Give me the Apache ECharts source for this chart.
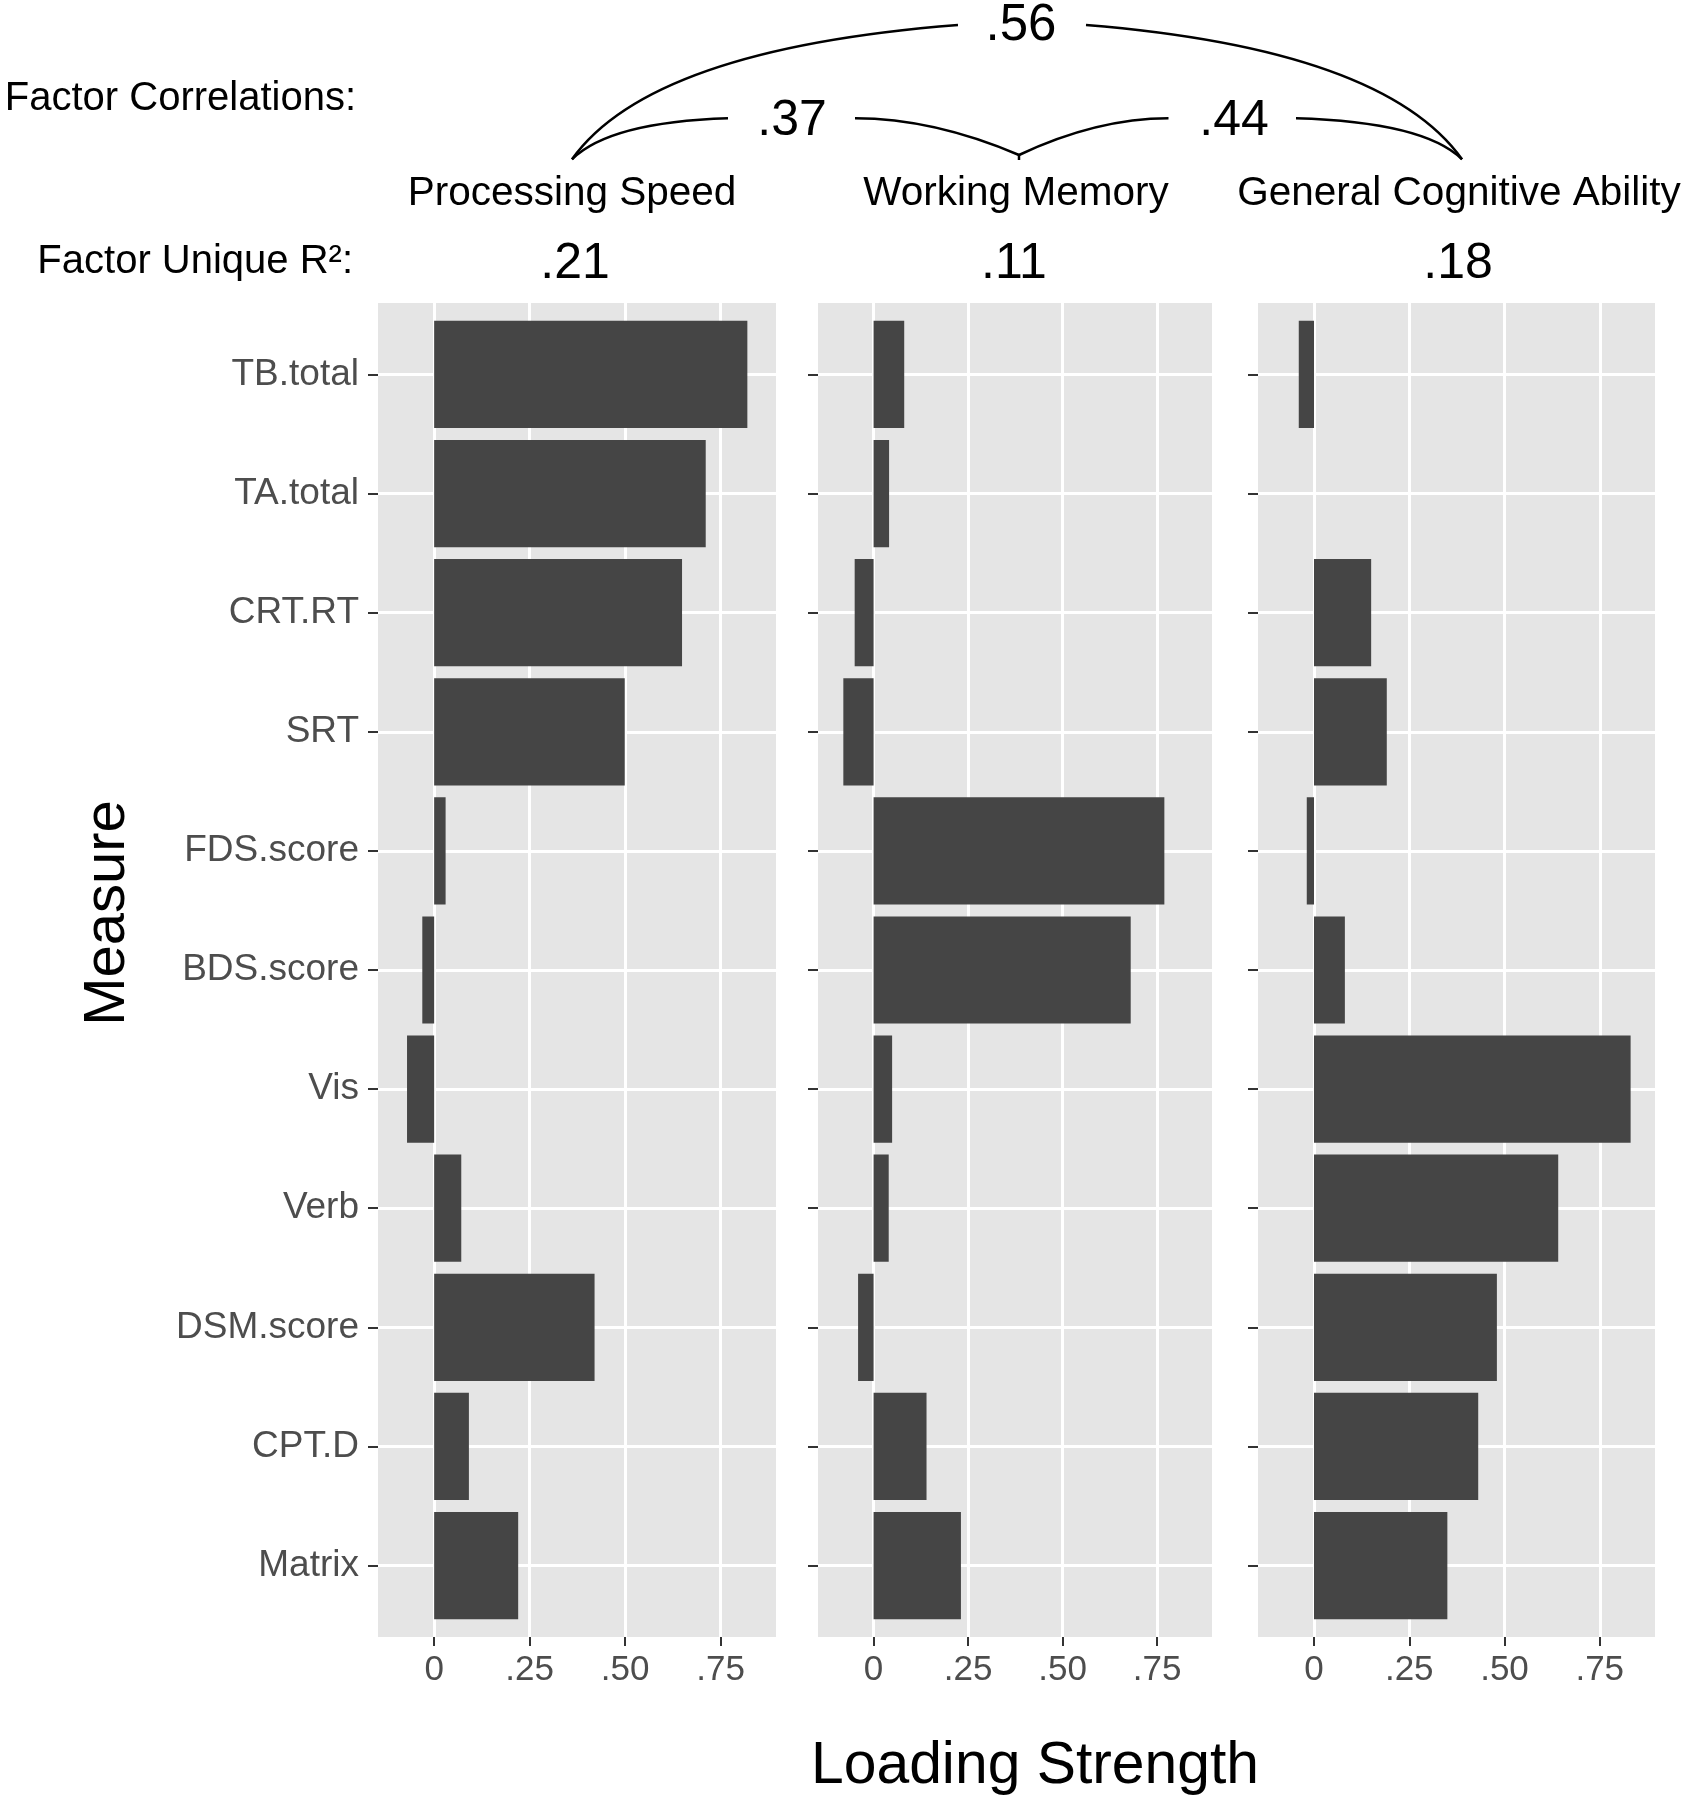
<!DOCTYPE html>
<html><head><meta charset="utf-8">
<script src="https://cdn.jsdelivr.net/npm/echarts@6/dist/echarts.min.js"></script>
<style>html,body{margin:0;padding:0;background:#fff}#c{width:1684px;height:1800px}</style>
</head><body><div id="c"></div>
<script>
// ---------- data ----------
const measures = ['TB.total','TA.total','CRT.RT','SRT','FDS.score','BDS.score','Vis','Verb','DSM.score','CPT.D','Matrix'];
const factors = ['Processing Speed','Working Memory','General Cognitive Ability'];
const processingSpeed = [0.820, 0.711, 0.649, 0.499, 0.030, -0.031, -0.071, 0.071, 0.420, 0.091, 0.220];
const workingMemory  = [0.081, 0.041, -0.050, -0.080, 0.769, 0.680, 0.049, 0.040, -0.041, 0.140, 0.231];
const generalAbility = [-0.040, 0.000, 0.150, 0.191, -0.019, 0.081, 0.831, 0.641, 0.480, 0.431, 0.350];
const uniqueR2 = ['.21', '.11', '.18'];
const corrPsWm = '.37';
const corrWmGca = '.44';
const corrPsGca = '.56';
const xTicks = [0, 0.25, 0.5, 0.75];
const xTickLabels = ['0', '.25', '.50', '.75'];

// ---------- layout ----------
const FONT = '"Liberation Sans", Arial, Helvetica, sans-serif';
const panelLeft = [378, 818, 1258];
const panelWidth = [398, 394, 397];
const bgTop = 303, bgH = 1334;
const band = bgH / (measures.length + 0.2);
const dataTop = bgTop + 0.1 * band, dataH = measures.length * band;
const XMIN = -0.147, XMAX = 0.895;
const seriesData = [processingSpeed, workingMemory, generalAbility];
const rowValues = measures.map((m, i) => i);

const grids = [], xAxes = [], yAxes = [], series = [];
for (let p = 0; p < 3; p++) {
  grids.push({left: panelLeft[p], top: bgTop, width: panelWidth[p], height: bgH,
    show: true, backgroundColor: '#e5e5e5', borderWidth: 0});
}
for (let p = 0; p < 3; p++) {
  grids.push({left: panelLeft[p], top: dataTop, width: panelWidth[p], height: dataH});
}
for (let p = 0; p < 3; p++) {
  xAxes.push({type: 'value', gridIndex: p, min: XMIN, max: XMAX, position: 'bottom',
    axisLine: {show: false, onZero: false},
    axisTick: {show: true, length: 9, customValues: xTicks, lineStyle: {color: '#333', width: 2}},
    axisLabel: {show: true, customValues: xTicks, margin: 16, fontSize: 35, color: '#4d4d4d', fontFamily: FONT,
      formatter: function (v) {
        for (let i = 0; i < xTicks.length; i++) if (Math.abs(v - xTicks[i]) < 1e-6) return xTickLabels[i];
        return '';
      }},
    splitLine: {show: true, lineStyle: {color: '#ffffff', width: 3}},
    minorSplitLine: {show: false}
  });
  yAxes.push({type: 'value', gridIndex: p, min: -0.6, max: measures.length - 0.4,
    axisLine: {show: false, onZero: false},
    axisTick: {show: false, customValues: rowValues},
    axisLabel: {show: false, customValues: rowValues},
    splitLine: {show: true, lineStyle: {color: '#ffffff', width: 3}}
  });
}
for (let p = 0; p < 3; p++) {
  xAxes.push({type: 'value', gridIndex: 3 + p, min: XMIN, max: XMAX, show: false,
    axisLine: {onZero: false}, splitLine: {show: false}});
  yAxes.push({type: 'category', gridIndex: 3 + p, data: measures, inverse: true, position: 'left',
    axisLine: {show: false, onZero: false},
    axisTick: {show: true, alignWithLabel: true, length: 10, lineStyle: {color: '#333', width: 2}},
    axisLabel: {show: p === 0, margin: 19, fontSize: 37, color: '#4d4d4d', fontFamily: FONT, padding: [4, 0, 0, 0]},
    splitLine: {show: false}
  });
  series.push({type: 'bar', xAxisIndex: 3 + p, yAxisIndex: 3 + p, data: seriesData[p],
    barCategoryGap: '10%', itemStyle: {color: '#454545'}, silent: true, z: 3});
}

// ---------- annotations ----------
function txt(text, x, y, size, align, extra) {
  return Object.assign({type: 'text', x: x, y: y, silent: true,
    style: {text: text, fontSize: size, fontFamily: FONT, fill: '#000', align: align, verticalAlign: 'middle'}}, extra || {});
}
function curve(x1, y1, cx, cy, x2, y2) {
  return {type: 'bezierCurve', silent: true,
    shape: {x1: x1, y1: y1, cpx1: cx, cpy1: cy, x2: x2, y2: y2},
    style: {stroke: '#000', lineWidth: 2.5, fill: null}};
}
const graphic = [
  txt('Factor Correlations:', 356, 99, 40, 'right'),
  txt('Factor Unique R\u00B2:', 353, 262, 40, 'right'),
  txt(factors[0], 572, 194, 40.5, 'center'),
  txt(factors[1], 1016, 194, 40.5, 'center'),
  txt(factors[2], 1459, 194, 40.5, 'center'),
  txt(uniqueR2[0], 575, 264, 50, 'center'),
  txt(uniqueR2[1], 1014, 264, 50, 'center'),
  txt(uniqueR2[2], 1458, 264, 50, 'center'),
  txt(corrPsGca, 1021, 26, 51, 'center'),
  txt(corrPsWm, 792, 121.5, 50, 'center'),
  txt(corrWmGca, 1234, 121.5, 50, 'center'),
  txt('Loading Strength', 1035, 1767, 58.8, 'center'),
  txt('Measure', 108, 913, 58, 'center', {rotation: Math.PI / 2}),
  curve(572, 159.3, 650.5, 49, 958, 25),
  curve(1086, 25, 1383.5, 49, 1462, 159.3),
  curve(572, 159.3, 610, 122, 728, 118.3),
  curve(855, 118.3, 933, 118.3, 1019, 155),
  curve(1019, 155, 1097, 118.3, 1168.5, 118.3),
  curve(1296, 118.3, 1424, 122, 1462, 159.3),
  {type: 'line', silent: true, shape: {x1: 1019, y1: 155, x2: 1019, y2: 160},
   style: {stroke: '#000', lineWidth: 2.5}}
];

const chart = echarts.init(document.getElementById('c'), null, {renderer: 'canvas'});
chart.setOption({
  animation: false,
  backgroundColor: '#ffffff',
  textStyle: {fontFamily: FONT},
  grid: grids, xAxis: xAxes, yAxis: yAxes, series: series,
  graphic: graphic
});
</script></body></html>
